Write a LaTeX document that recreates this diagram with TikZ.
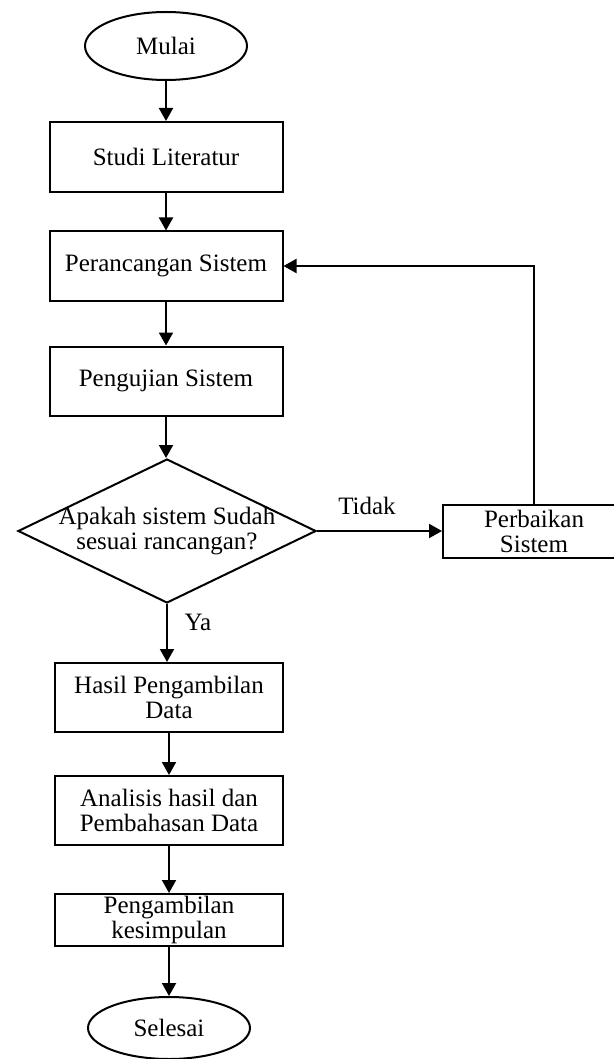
\documentclass[tikz,border=0pt]{standalone}
\usepackage{fontspec}
\setmainfont{Liberation Serif}
\usetikzlibrary{positioning,shapes.geometric,arrows.meta}

\begin{document}
\begin{tikzpicture}[x=0.5pt, y=-0.5pt,
  every node/.style={font=\fontsize{12.5}{12.5}\selectfont},
  proses/.style={draw, line width=1pt, rectangle, align=center, inner sep=0pt},
  terminal/.style={draw, line width=1pt, ellipse, minimum width=81pt, inner sep=0pt},
  alur/.style={line width=1pt, -{Triangle[length=6.5pt, width=7pt]}}]
  % page frame
  \useasboundingbox (0,0) rectangle (614,1059);
  % start and upper column
  \node[terminal, minimum height=34pt] (mulai) at (166,46) {Mulai};
  \node[proses, minimum width=116.5pt, minimum height=35pt] (studi) at (166,157) {Studi Literatur};
  \node[proses, minimum width=116.5pt, minimum height=34.5pt] (rancang) at (166,266) {Perancangan Sistem};
  \node[proses, minimum width=116.5pt, minimum height=34.5pt] (uji) at (166,381) {Pengujian Sistem};
  % decision
  \node[draw, diamond, line width=1pt, minimum width=149pt, minimum height=72pt, inner sep=0pt] (cek) at (167,531) {};
  \node[align=center] (cektext) at (cek) {Apakah sistem Sudah\\sesuai rancangan?};
  \node[proses, minimum width=91pt, minimum height=26.5pt] (perbaikan) at (534,531) {Perbaikan\\Sistem};
  % lower column and end
  \node[proses, minimum width=114pt, minimum height=34.5pt] (hasil) at (169,697.5) {Hasil Pengambilan\\Data};
  \node[proses, minimum width=114pt, minimum height=34.5pt] (analisis) at (169,810.5) {Analisis hasil dan\\Pembahasan Data};
  \node[proses, minimum width=114pt, minimum height=26pt] (simpul) at (169,920) {Pengambilan\\kesimpulan};
  \node[terminal, minimum height=31pt] (selesai) at (169,1028) {Selesai};
  % connectors
  \draw[alur] (mulai) -- (studi);
  \draw[alur] (studi) -- (rancang);
  \draw[alur] (rancang) -- (uji);
  \draw[alur] (uji.south) -- (uji.south |- cek.north);
  \draw[alur] (cek.south) -- (cek.south |- hasil.north);
  \draw[alur] (hasil) -- (analisis);
  \draw[alur] (analisis) -- (simpul);
  \draw[alur] (simpul) -- (selesai);
  \draw[alur] (cek.east) -- (perbaikan.west);
  \draw[alur] (perbaikan.north) |- (rancang.east);
  % branch labels
  \node (ya) at (198,622) {Ya};
  \node (tidak) at (367,506) {Tidak};
\end{tikzpicture}
\end{document}
